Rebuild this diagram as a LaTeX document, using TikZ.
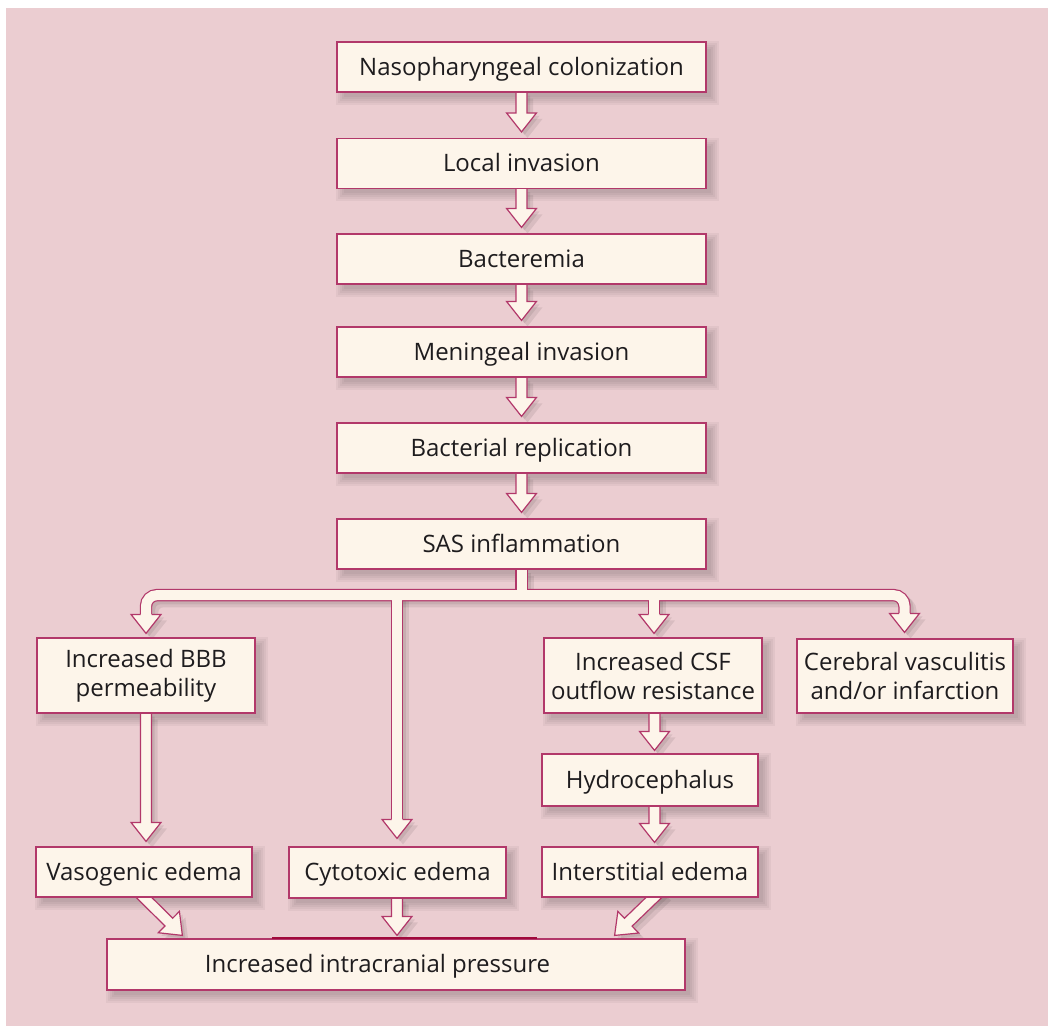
\documentclass[tikz,border=0pt]{standalone}
\usepackage{fontspec}
\setmainfont{Open Sans}
\usetikzlibrary{calc}
\definecolor{bgpink}{RGB}{235,205,209}
\definecolor{cream}{RGB}{253,245,234}
\definecolor{rim}{RGB}{178,56,106}
\definecolor{rimdark}{RGB}{160,10,60}
\definecolor{ink}{RGB}{30,28,30}
\pgfdeclarelayer{bglayer}
\pgfdeclarelayer{shadowlayer}
\pgfdeclarelayer{arrowlayer}
\pgfsetlayers{bglayer,shadowlayer,arrowlayer,main}
\tikzset{
  box/.style={draw=rim, fill=cream, line width=1.2pt, text=ink, align=center,
    inner sep=0pt, font=\fontsize{24}{29}\selectfont},
  onebox/.style={box, text height=20pt, text depth=4pt},
  arrowbody/.style={draw=rim, fill=cream, line width=1.2pt, line join=miter},
  arrowshade/.style={draw=none, fill=black, fill opacity=0.08},
  shaftrim/.style={draw=rim, line width=12.4pt},
  shaftfill/.style={draw=cream, line width=10pt},
  shaftshade/.style={draw=black, draw opacity=0.08, line width=12.4pt},
}
% block arrow from #2 (start) to #3 (tip)
\newcommand\blockarrow[3][arrowbody]{%
  \coordinate (ba) at #2;
  \coordinate (bb) at #3;
  \coordinate (bh) at ($(bb)!19pt!(ba)$);
  \path[#1] ($(ba)!5.5pt!90:(bb)$) -- ($(bh)!5.5pt!90:(bb)$) -- ($(bh)!15pt!90:(bb)$)
    -- (bb) -- ($(bh)!15pt!-90:(bb)$) -- ($(bh)!5.5pt!-90:(bb)$) -- ($(ba)!5.5pt!-90:(bb)$);
}
% arrow head: tip #2, base centre #3
\newcommand\ahead[3][arrowbody]{%
  \path[#1] ($(#3)!5.5pt!90:(#2)$) -- ($(#3)!15pt!90:(#2)$) -- (#2)
    -- ($(#3)!15pt!-90:(#2)$) -- ($(#3)!5.5pt!-90:(#2)$);
}
\newcommand\allarrows[1]{%
  \blockarrow[#1]{(n1.south)}{($(n2.north)+(0,-6)$)}
  \blockarrow[#1]{(n2.south)}{($(n3.north)+(0,-6)$)}
  \blockarrow[#1]{(n3.south)}{($(n4.north)+(0,-6)$)}
  \blockarrow[#1]{(n4.south)}{($(n5.north)+(0,-6)$)}
  \blockarrow[#1]{(n5.south)}{($(n6.north)+(0,-6)$)}
  \blockarrow[#1]{(bbb.south)}{($(vaso.north)+(2,-5)$)}
  \blockarrow[#1]{(xa |- csf.south)}{($(xa |- hydro.north)+(0,-3)$)}
  \blockarrow[#1]{(xa |- hydro.south)}{($(xa |- inter.north)+(0,-4)$)}
  \blockarrow[#1]{($(cyto.south)+(-0.5,0)$)}{($(cyto.south |- icp.north)+(-0.5,-3)$)}
  \blockarrow[#1]{($(vaso.south)+(-7,-7)$)}{($(icp.north west)+(76,-3)$)}
  \blockarrow[#1]{($(inter.south)+(11,-7)$)}{($(icp.north east)+(-71,-3)$)}
}
\begin{document}
\begin{tikzpicture}[x=1pt,y=-1pt]
\useasboundingbox (0,0) rectangle (1048,1026);
\begin{pgfonlayer}{bglayer}
  \fill[white] (0,0) rectangle (1048,1026);
  \fill[bgpink] (6,8) rectangle (1048,1026);
\end{pgfonlayer}

% boxes
\node[onebox, minimum width=369pt, minimum height=50pt] (n1) at (521.5,67) {Nasopharyngeal colonization};
\node[onebox, minimum width=369pt, minimum height=50pt] (n2) at (521.5,163.5) {Local invasion};
\node[onebox, minimum width=369pt, minimum height=50pt] (n3) at (521.5,259) {Bacteremia};
\node[onebox, minimum width=369pt, minimum height=50pt] (n4) at (521.5,352) {Meningeal invasion};
\node[onebox, minimum width=369pt, minimum height=50pt] (n5) at (521.5,448) {Bacterial replication};
\node[onebox, minimum width=369pt, minimum height=50pt] (n6) at (521.5,544) {SAS inflammation};
\node[box, minimum width=218pt, minimum height=75pt] (bbb) at (146,675.5) {Increased BBB\\permeability};
\node[box, minimum width=218pt, minimum height=75pt] (csf) at (653,675.5) {Increased CSF\\outflow resistance};
\node[box, minimum width=216pt, minimum height=74pt] (cer) at (905,676) {Cerebral vasculitis\\and/or infarction};
\node[onebox, minimum width=216pt, minimum height=52pt] (hydro) at (650,780) {Hydrocephalus};
\node[onebox, minimum width=216pt, minimum height=50pt] (vaso) at (144,872) {Vasogenic edema};
\node[onebox, minimum width=217pt, minimum height=51pt] (cyto) at (397.5,872.5) {Cytotoxic edema};
\node[onebox, minimum width=216pt, minimum height=50pt] (inter) at (650,872) {Interstitial edema};
\node[onebox, minimum width=578pt, minimum height=51pt] (icp) at (396,964.5) {\hspace*{-37pt}Increased intracranial pressure};
\draw[rimdark, line width=2pt] ($(icp.north west)+(166,-0.5)$) -- ($(icp.north west)+(431,-0.5)$);

% helper coordinates
\coordinate (xa) at ($(csf.south)+(1.5,0)$);
\coordinate (bar) at ($(n6.south)+(0,25.5)$);
\coordinate (tB) at ($(bbb.north)+(0,-4)$);
\coordinate (tC) at ($(cyto.north)+(-0.5,-8)$);
\coordinate (tS) at ($(csf.north)+(1,-4)$);
\coordinate (tV) at ($(cer.north)+(-0.5,-6)$);
\foreach \t in {B,C,S,V}{
  \coordinate (h\t) at ($(t\t)+(0,-19)$);
  \coordinate (i\t) at ($(t\t)+(0,-17.5)$);
}

% shadows
\begin{pgfonlayer}{shadowlayer}
  \foreach \n in {n1,n2,n3,n4,n5,n6,bbb,csf,cer,hydro,vaso,cyto,inter,icp}{
    \foreach \e in {-2,0,2,4,6}{
      \fill[black, opacity=0.04] ($(\n.north west)+(6-\e,6-\e)$) rectangle ($(\n.south east)+(6+\e,6+\e)$);
    }
  }
  \foreach \s in {3,6}{
  \begin{scope}[transform canvas={xshift=\s pt,yshift=-\s pt}]
    \allarrows{arrowshade}
    \draw[shaftshade] (n6.south) -- (n6.south |- bar);
    \draw[shaftshade, rounded corners=11pt] (hB) -- (hB |- bar) -- (hV |- bar) -- (hV);
    \draw[shaftshade] (hC |- bar) -- (hC);
    \draw[shaftshade] (hS |- bar) -- (hS);
    \ahead[arrowshade]{tB}{hB}
    \ahead[arrowshade]{tC}{hC}
    \ahead[arrowshade]{tS}{hS}
    \ahead[arrowshade]{tV}{hV}
  \end{scope}
  }
\end{pgfonlayer}

% arrows
\begin{pgfonlayer}{arrowlayer}
  \allarrows{arrowbody}
  % branching connector from SAS inflammation
  \draw[shaftrim] (n6.south) -- (n6.south |- bar);
  \draw[shaftrim, rounded corners=11pt] (hB) -- (hB |- bar) -- (hV |- bar) -- (hV);
  \draw[shaftrim] (hC |- bar) -- (hC);
  \draw[shaftrim] (hS |- bar) -- (hS);
  \ahead{tB}{hB}
  \ahead{tC}{hC}
  \ahead{tS}{hS}
  \ahead{tV}{hV}
  \draw[shaftfill] (n6.south) -- (n6.south |- bar);
  \draw[shaftfill, rounded corners=11pt] (iB) -- (iB |- bar) -- (iV |- bar) -- (iV);
  \draw[shaftfill] (iC |- bar) -- (iC);
  \draw[shaftfill] (iS |- bar) -- (iS);
\end{pgfonlayer}
\end{tikzpicture}
\end{document}
